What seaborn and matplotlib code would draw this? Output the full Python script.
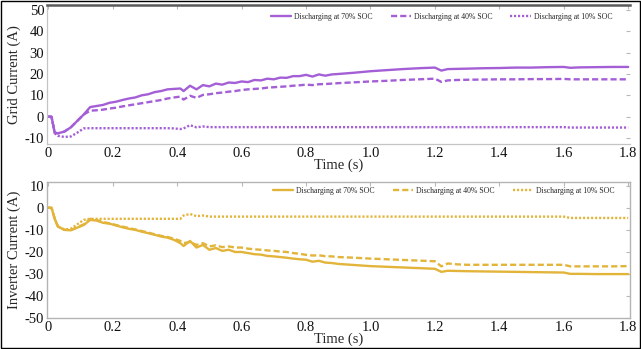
import matplotlib
matplotlib.use("Agg")
import matplotlib.pyplot as plt
import seaborn as sns
import pandas as pd
from matplotlib.patches import Rectangle

# Simulation time samples (s)
time_s = [0, 0.01, 0.02, 0.03, 0.05, 0.07, 0.09, 0.11, 0.13, 0.15,
          0.17, 0.19, 0.21, 0.23, 0.25, 0.27, 0.29, 0.31, 0.33, 0.35,
          0.37, 0.39, 0.41, 0.42, 0.44, 0.46, 0.48, 0.50, 0.52, 0.54,
          0.56, 0.58, 0.60, 0.62, 0.64, 0.66, 0.68, 0.70, 0.72, 0.74,
          0.76, 0.78, 0.80, 0.82, 0.84, 0.86, 0.88, 0.90, 0.95, 1.00,
          1.05, 1.10, 1.15, 1.20, 1.22, 1.24, 1.27, 1.30, 1.35, 1.40,
          1.45, 1.50, 1.55, 1.60, 1.62, 1.65, 1.70, 1.75, 1.80]

# Grid current (A)
grid_70 = [0, 0, -7.5, -7.8, -7.0, -5.0, -2.0, 1.0, 4.5, 5.0,
           5.5, 6.5, 7.0, 7.8, 8.5, 9.0, 10.0, 10.5, 11.5, 12.0,
           12.8, 13.0, 13.2, 12.0, 14.5, 12.8, 14.8, 14.2, 15.5, 15.0,
           16.0, 15.8, 16.5, 16.2, 17.2, 17.0, 17.8, 17.5, 18.3, 18.2,
           19.0, 19.0, 19.6, 18.8, 19.8, 19.2, 19.8, 20.0, 20.6, 21.3,
           21.8, 22.3, 22.7, 23.0, 21.6, 22.3, 22.4, 22.5, 22.7, 22.8,
           23.0, 23.0, 23.2, 23.3, 22.9, 23.1, 23.2, 23.3, 23.3]
grid_40 = [0, 0, -7.5, -7.8, -7.0, -5.0, -2.0, 1.0, 2.8, 3.0,
           3.3, 3.8, 4.2, 4.8, 5.3, 5.8, 6.3, 6.8, 7.3, 7.8,
           8.5, 9.0, 9.4, 8.0, 9.8, 8.8, 10.2, 10.5, 11.0, 11.3,
           11.7, 12.0, 12.5, 12.8, 13.0, 13.2, 13.6, 13.8, 14.0, 14.2,
           14.5, 14.7, 15.0, 14.8, 15.2, 15.3, 15.5, 15.7, 16.1, 16.5,
           16.8, 17.2, 17.5, 17.8, 16.3, 17.0, 17.2, 17.3, 17.4, 17.5,
           17.5, 17.6, 17.6, 17.7, 17.5, 17.5, 17.5, 17.5, 17.5]
grid_10 = [0, 0, -7.8, -9.0, -9.5, -9.3, -7.5, -5.5, -5.4, -5.4,
           -5.4, -5.4, -5.4, -5.4, -5.4, -5.4, -5.4, -5.4, -5.4, -5.4,
           -5.4, -5.5, -5.8, -5.5, -4.0, -5.0, -4.6, -4.9, -4.9, -4.9,
           -4.9, -4.9, -4.9, -4.9, -4.9, -4.9, -4.9, -4.9, -4.9, -4.9,
           -4.9, -4.9, -4.9, -4.9, -4.9, -4.9, -4.9, -4.9, -4.9, -4.9,
           -4.9, -4.9, -4.9, -4.9, -4.9, -4.9, -4.9, -4.9, -4.9, -4.9,
           -4.9, -4.9, -4.9, -4.9, -5.1, -5.1, -5.1, -5.1, -5.1]

# Inverter current (A)
inv_70 = [0, 0, -5.0, -8.5, -10.0, -10.2, -9.0, -7.8, -5.5, -5.8,
          -6.8, -7.2, -8.0, -8.8, -9.5, -10.0, -10.8, -11.5, -12.2, -13.0,
          -13.5, -14.5, -16.0, -17.3, -15.0, -18.0, -16.8, -19.0, -18.2, -19.5,
          -19.0, -20.0, -20.0, -20.5, -21.0, -21.2, -21.8, -22.0, -22.3, -22.6,
          -23.0, -23.3, -23.5, -24.4, -24.0, -24.8, -25.0, -25.4, -25.9, -26.4,
          -26.7, -27.0, -27.3, -27.6, -29.0, -28.5, -28.6, -28.7, -28.8, -28.9,
          -29.0, -29.1, -29.2, -29.3, -29.9, -29.9, -30.0, -30.0, -30.0]
inv_40 = [0, 0, -5.0, -8.5, -10.0, -10.0, -8.8, -7.5, -5.0, -5.5,
          -6.5, -7.0, -7.8, -8.5, -9.2, -9.8, -10.5, -11.2, -12.0, -12.7,
          -13.2, -14.0, -15.0, -16.0, -15.5, -16.8, -16.0, -17.5, -17.0, -17.8,
          -17.5, -18.0, -18.0, -18.5, -18.8, -19.0, -19.3, -19.5, -19.8, -20.0,
          -20.5, -20.8, -21.3, -21.6, -21.5, -21.9, -22.0, -22.3, -22.6, -23.0,
          -23.3, -23.6, -23.9, -24.2, -26.5, -25.2, -25.6, -25.8, -25.8, -25.8,
          -25.8, -25.8, -25.8, -25.8, -26.5, -26.5, -26.5, -26.5, -26.4]
inv_10 = [0, 0, -5.0, -8.5, -9.8, -9.5, -7.5, -5.5, -5.0, -5.0,
          -5.0, -5.0, -5.0, -5.0, -5.0, -5.0, -5.0, -5.0, -5.0, -5.0,
          -5.0, -5.0, -5.0, -3.5, -2.8, -3.8, -3.5, -4.0, -4.0, -4.0,
          -4.0, -4.0, -4.0, -4.0, -4.0, -4.0, -4.0, -4.0, -4.0, -4.0,
          -4.0, -4.0, -4.0, -4.0, -4.0, -4.0, -4.0, -4.0, -4.0, -4.0,
          -4.0, -4.0, -4.0, -4.0, -4.0, -4.0, -4.0, -4.0, -4.0, -4.0,
          -4.0, -4.0, -4.0, -4.0, -4.6, -4.6, -4.6, -4.6, -4.6]

series_labels = ["Discharging at 70% SOC", "Discharging at 40% SOC",
                 "Discharging at 10% SOC"]
x_ticks = [0, 0.2, 0.4, 0.6, 0.8, 1.0, 1.2, 1.4, 1.6, 1.8]
x_tick_labels = ["0", "0.2", "0.4", "0.6", "0.8", "1.0", "1.2", "1.4", "1.6", "1.8"]
grid_yticks = [50, 40, 30, 20, 10, 0, -10]
inv_yticks = [10, 0, -10, -20, -30, -40, -50]

sns.set_style("white")
plt.rcParams["font.family"] = ["Liberation Serif", "DejaVu Serif"]
plt.rcParams["axes.unicode_minus"] = False

PURPLE = "#a45fd6"
GOLD = "#e3b43a"
line_styles = [dict(linestyle="-"),
               dict(linestyle=(0, (2.6, 1.3))),
               dict(linestyle=(0, (0.9, 0.8)))]

fig = plt.figure(figsize=(6.41, 3.49), dpi=100)
ax_top = fig.add_axes([0.0733, 0.5874, 0.9097, 0.3983])
ax_bot = fig.add_axes([0.0733, 0.0880, 0.9097, 0.3914])


def draw_panel(ax, values, color, ylim, yticks, ylabel, legend_pad):
    for vals, lab, st in zip(values, series_labels, line_styles):
        df = pd.DataFrame({"Time (s)": time_s, "I": vals})
        sns.lineplot(data=df, x="Time (s)", y="I", ax=ax, color=color,
                     linewidth=1.7, label=lab, estimator=None, sort=False,
                     **st)
    ax.set_xlim(-0.004, 1.806)
    ax.set_ylim(*ylim)
    ax.set_xticks(x_ticks)
    ax.set_xticklabels(x_tick_labels)
    ax.set_yticks(yticks)
    ax.set_yticklabels([str(v) for v in yticks])
    ax.tick_params(axis="both", which="both", direction="in", length=3,
                   width=0.8, color="#b8b8b8", labelsize=10.5, pad=2,
                   top=True, right=True, labelcolor="#111111")
    ax.set_xlabel("Time (s)", fontsize=10.5, labelpad=-1)
    ax.set_ylabel(ylabel, fontsize=10.5, labelpad=3)
    leg = ax.legend(loc="upper right", ncol=3, frameon=False, fontsize=5.6,
                    handlelength=2.6, columnspacing=2.3, handletextpad=0.4,
                    bbox_to_anchor=(0.983, 1.0), borderaxespad=legend_pad)
    for h in leg.get_lines():
        h.set_linewidth(1.7)


draw_panel(ax_top, [grid_70, grid_40, grid_10], PURPLE,
           (-12.81, 52.34), grid_yticks, "Grid Current (A)", 0.6)
draw_panel(ax_bot, [inv_70, inv_40, inv_10], GOLD,
           (-50, 11.8), inv_yticks, "Inverter Current (A)", 0.3)

for side in ["left", "bottom", "right"]:
    ax_top.spines[side].set_color("#c4c4c4")
    ax_top.spines[side].set_linewidth(0.9)
ax_top.spines["right"].set_visible(False)
ax_top.spines["top"].set_color("#5a5a5a")
ax_top.spines["top"].set_linewidth(1.8)
for side in ["left", "bottom", "right", "top"]:
    ax_bot.spines[side].set_color("#b4b4b4")
    ax_bot.spines[side].set_linewidth(1.0)

# outer frame around the whole figure
fig.patches.append(Rectangle((0.001, 0.002), 0.997, 0.995, transform=fig.transFigure,
                             fill=False, edgecolor="black", linewidth=1.0))

fig.savefig("out.png", dpi=100)
